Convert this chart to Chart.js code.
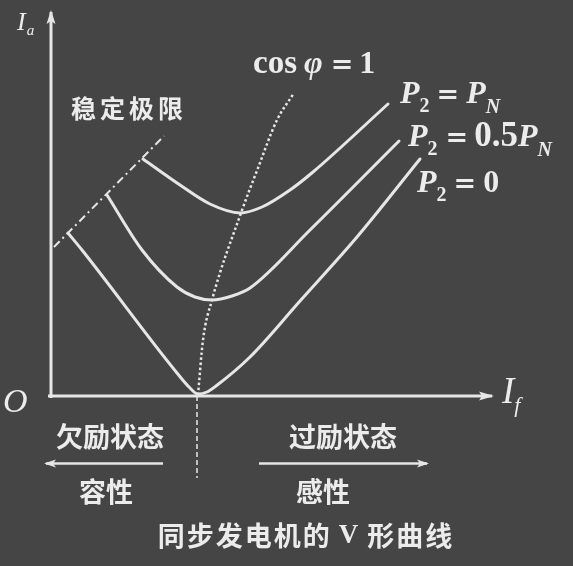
<!DOCTYPE html>
<html>
<head>
<meta charset="utf-8">
<script src="https://cdn.jsdelivr.net/npm/chart.js@4.4.1/dist/chart.umd.min.js"></script>
<style>
html,body{margin:0;padding:0;background:#454545;}
#wrap{width:573px;height:566px;}
</style>
</head>
<body>
<div id="wrap"><canvas id="vCurve" width="573" height="566"></canvas></div>
<script>
// V curves of a synchronous generator: armature current Ia against field current If
// (schematic, both axes in arbitrary units, origin at the axes corner)

// P2 = PN (full load)
const fullIf = [9.2, 12.9, 15.9, 18.9, 21.1, 23.9, 26.2, 33.7];
const fullIa = [23.7, 21.1, 19.2, 18.3, 18.9, 20.6, 22.4, 29.2];
// P2 = 0.5 PN
const halfIf = [5.6, 9.1, 12.6, 14.4, 16.1, 18.1, 19.9, 25.9, 34.8];
const halfIa = [20.1, 14.6, 10.9, 9.9, 9.6, 10.0, 10.8, 16.6, 25.5];
// P2 = 0 (no load)
const zeroIf = [1.7, 3.1, 12.6, 13.9, 14.7, 15.6, 16.5, 19.9, 24.9, 30.6, 36.9];
const zeroIa = [16.3, 14.6, 2.3, 0.8, 0.2, 0.4, 1.0, 3.9, 9.5, 15.9, 23.7];
// cos(phi) = 1 locus through the minima
const unityIf = [14.7, 15.2, 16.1, 19.0, 20.7, 22.6, 24.3];
const unityIa = [0.1, 5.6, 9.6, 18.3, 22.8, 27.6, 30.3];
// stability limit (dash-dot) through the left ends
const limitIf = [0.3, 11.3];
const limitIa = [14.9, 26.0];
// axes extents and the under/over excitation split
const axisIf = [-0.3, 44.1];
const axisIa = [-0.2, 38.4];
const splitIf = 14.6;
const splitIa = [0, -8.2];
const underArrowIf = [11.2, -0.5];
const overArrowIf = [20.8, 37.6];
const arrowIa = -6.75;

const ink = '#e6e6e6';
const serif = '"Liberation Serif", "DejaVu Serif", serif';
const eqFont = 'bold 27px "DejaVu Serif", serif';
const cjk = '"Noto Sans CJK SC", "Noto Sans CJK JP", sans-serif';

function pts(xs, ys) {
  return xs.map(function (x, i) { return {x: x, y: ys[i]}; });
}

// text blocks, placed in data units
const notes = [
  {x: -3.4, y: 36.6, segs: [
    {t: 'I', f: 'italic 26px ' + serif},
    {t: 'a', f: 'italic 15px ' + serif, dy: 5, gap: 1}]},
  {x: -4.8, y: -1.6, segs: [{t: 'O', f: 'italic 34px ' + serif}]},
  {x: 45.1, y: -0.7, segs: [
    {t: 'I', f: 'italic 37px ' + serif},
    {t: 'f', f: 'italic 22px ' + serif, dy: 9, gap: 0}]},
  {x: 20.2, y: 32.3, segs: [
    {t: 'cos', f: 'bold 33px ' + serif},
    {t: '\u03c6', f: 'bold italic 32px ' + serif, gap: 7},
    {t: '=', f: eqFont, gap: 8},
    {t: '1', f: 'bold 32px ' + serif, gap: 6}]},
  {x: 34.9, y: 29.3, segs: [
    {t: 'P', f: 'bold italic 32px ' + serif},
    {t: '2', f: 'bold 20px ' + serif, dy: 9},
    {t: '=', f: eqFont, gap: 7},
    {t: 'P', f: 'bold italic 32px ' + serif, gap: 7},
    {t: 'N', f: 'bold italic 20px ' + serif, dy: 10}]},
  {x: 35.7, y: 25.0, segs: [
    {t: 'P', f: 'bold italic 32px ' + serif},
    {t: '2', f: 'bold 20px ' + serif, dy: 9},
    {t: '=', f: eqFont, gap: 8},
    {t: '0.5', f: 'bold 35px ' + serif, gap: 6},
    {t: 'P', f: 'bold italic 32px ' + serif},
    {t: 'N', f: 'bold italic 20px ' + serif, dy: 10}]},
  {x: 36.6, y: 20.4, segs: [
    {t: 'P', f: 'bold italic 32px ' + serif},
    {t: '2', f: 'bold 20px ' + serif, dy: 9},
    {t: '=', f: eqFont, gap: 7},
    {t: '0', f: 'bold 32px ' + serif, gap: 7}]},
  {x: 7.6, y: 28.8, mid: true, segs: [{t: '稳定极限', f: 'bold 25px ' + cjk, ls: 4}]},
  {x: 5.9, y: -4.1, mid: true, segs: [{t: '欠励状态', f: 'bold 27px ' + cjk}]},
  {x: 29.2, y: -4.1, mid: true, segs: [{t: '过励状态', f: 'bold 27px ' + cjk}]},
  {x: 5.5, y: -9.6, mid: true, segs: [{t: '容性', f: 'bold 27px ' + cjk}]},
  {x: 27.2, y: -9.6, mid: true, segs: [{t: '感性', f: 'bold 27px ' + cjk}]},
  {x: 25.4, y: -14.0, mid: true, segs: [
    {t: '同步发电机的', f: 'bold 27px ' + cjk, ls: 2},
    {t: 'V', f: 'bold 27px ' + serif, gap: 9},
    {t: '形曲线', f: 'bold 27px ' + cjk, gap: 9, ls: 2}]}
];

function segWidth(ctx, s) {
  ctx.font = s.f;
  var w = ctx.measureText(s.t).width;
  if (s.ls) w += s.ls * (s.t.length - 1);
  return w;
}

function drawNote(ctx, px, py, n) {
  var total = 0;
  n.segs.forEach(function (s) { total += (s.gap || 0) + segWidth(ctx, s); });
  var cx = n.mid ? px - total / 2 : px;
  ctx.textBaseline = n.mid ? 'middle' : 'alphabetic';
  n.segs.forEach(function (s) {
    cx += s.gap || 0;
    ctx.font = s.f;
    if (s.ls) {
      for (var i = 0; i < s.t.length; i++) {
        ctx.fillText(s.t[i], cx, py + (s.dy || 0));
        cx += ctx.measureText(s.t[i]).width + s.ls;
      }
      cx -= s.ls;
    } else {
      ctx.fillText(s.t, cx, py + (s.dy || 0));
      cx += ctx.measureText(s.t).width;
    }
  });
}

const backdrop = {
  id: 'backdrop',
  beforeDraw: function (chart) {
    var c = chart.ctx;
    c.save();
    c.fillStyle = '#454545';
    c.fillRect(0, 0, chart.width, chart.height);
    c.restore();
  }
};

// arrow heads on the last point of flagged datasets, plus the text
const decor = {
  id: 'decor',
  afterDatasetsDraw: function (chart) {
    var c = chart.ctx;
    c.save();
    chart.data.datasets.forEach(function (ds, i) {
      if (!ds.arrow) return;
      var el = chart.getDatasetMeta(i).data;
      var a = el[el.length - 2], b = el[el.length - 1];
      var ang = Math.atan2(b.y - a.y, b.x - a.x);
      var len = ds.arrow[0], half = ds.arrow[1];
      c.translate(b.x, b.y);
      c.rotate(ang);
      c.beginPath();
      c.moveTo(2, 0);
      c.lineTo(-len, -half);
      c.lineTo(-len + 3, 0);
      c.lineTo(-len, half);
      c.closePath();
      c.fillStyle = ink;
      c.fill();
      c.setTransform(1, 0, 0, 1, 0, 0);
    });
    c.fillStyle = '#ececec';
    var sx = chart.scales.x, sy = chart.scales.y;
    notes.forEach(function (n) {
      drawNote(c, sx.getPixelForValue(n.x), sy.getPixelForValue(n.y), n);
    });
    c.restore();
  }
};

function curve(xs, ys) {
  return {data: pts(xs, ys), showLine: true, borderColor: ink, borderWidth: 3,
    cubicInterpolationMode: 'monotone', borderCapStyle: 'round', borderJoinStyle: 'round'};
}

new Chart('vCurve', {
  type: 'scatter',
  data: {
    datasets: [
      {data: pts([0, 0], axisIa), showLine: true, borderColor: ink, borderWidth: 3, arrow: [12, 4.5]},
      {data: pts(axisIf, [0, 0]), showLine: true, borderColor: ink, borderWidth: 3, arrow: [13, 4.5]},
      {data: pts(limitIf, limitIa), showLine: true, borderColor: ink, borderWidth: 2, borderDash: [8, 4, 2, 4]},
      {data: pts(unityIf, unityIa), showLine: true, borderColor: ink, borderWidth: 2.5,
        borderDash: [2.5, 2.5], cubicInterpolationMode: 'monotone'},
      curve(fullIf, fullIa),
      curve(halfIf, halfIa),
      curve(zeroIf, zeroIa),
      {data: pts([splitIf, splitIf], splitIa), showLine: true, borderColor: ink, borderWidth: 1.5, borderDash: [5, 3]},
      {data: pts(underArrowIf, [arrowIa, arrowIa]), showLine: true, borderColor: ink, borderWidth: 2.5, arrow: [10, 4]},
      {data: pts(overArrowIf, [arrowIa, arrowIa]), showLine: true, borderColor: ink, borderWidth: 2.5, arrow: [10, 4]}
    ]
  },
  options: {
    responsive: false,
    animation: false,
    events: [],
    layout: {padding: 0},
    plugins: {legend: {display: false}, tooltip: {enabled: false}},
    elements: {point: {radius: 0, hoverRadius: 0}},
    scales: {
      x: {type: 'linear', min: -5.1, max: 52.2, display: false},
      y: {type: 'linear', min: -17, max: 39.6, display: false}
    }
  },
  plugins: [backdrop, decor]
});
</script>
</body>
</html>
